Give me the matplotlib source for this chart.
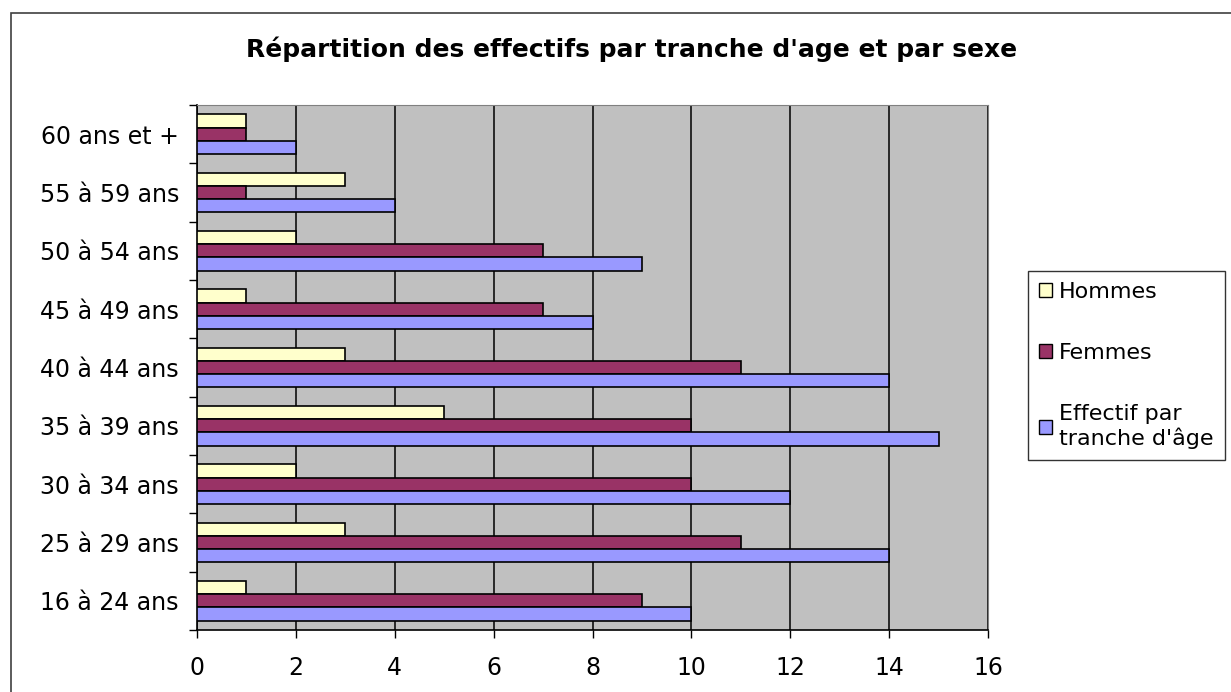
import numpy as np
import matplotlib.pyplot as plt
from matplotlib.patches import Rectangle, Patch

plt.rcParams['font.family'] = ['DejaVu Sans']

# Data (bottom to top as drawn)
categories = ['16 à 24 ans', '25 à 29 ans', '30 à 34 ans', '35 à 39 ans', '40 à 44 ans',
              '45 à 49 ans', '50 à 54 ans', '55 à 59 ans', '60 ans et +']
hommes = [1, 3, 2, 5, 3, 1, 2, 3, 1]
femmes = [9, 11, 10, 10, 11, 7, 7, 1, 1]
effectif = [10, 14, 12, 15, 14, 8, 9, 4, 2]

fig = plt.figure(figsize=(12.31, 6.92), dpi=100)
fig.patch.set_facecolor('white')

# outer chart frame
fig.patches.append(Rectangle((11 / 1231, -0.1), 1.2, (692 - 13) / 692 + 0.1,
                             transform=fig.transFigure, fill=False,
                             edgecolor='#404040', linewidth=1.2))

ax = fig.add_axes([197 / 1231, 62 / 692, 791 / 1231, 525 / 692])
ax.set_facecolor('#C0C0C0')

y = np.arange(len(categories))
h = 0.225
ax.barh(y + h, hommes, height=h, color='#FFFFCC', edgecolor='black', linewidth=1.2, zorder=3)
ax.barh(y, femmes, height=h, color='#993366', edgecolor='black', linewidth=1.2, zorder=3)
ax.barh(y - h, effectif, height=h, color='#9999FF', edgecolor='black', linewidth=1.2, zorder=3)

ax.set_xlim(0, 16)
ax.set_ylim(-0.5, len(categories) - 0.5)
ax.set_xticks(range(0, 17, 2))
ax.set_yticks(y)
ax.set_yticklabels(categories)
ax.set_yticks(np.arange(-0.5, len(categories), 1), minor=True)
ax.tick_params(axis='y', which='major', length=0, pad=13, labelsize=17)
ax.tick_params(axis='y', which='minor', length=6, width=1, color='black')
ax.tick_params(axis='x', length=6, width=1, pad=13, labelsize=17)
ax.xaxis.grid(True, color='black', linewidth=1.1, zorder=0)
ax.set_axisbelow(True)

for side in ['top', 'right']:
    ax.spines[side].set_color('#808080')
for side in ['left', 'bottom']:
    ax.spines[side].set_color('black')
    ax.spines[side].set_linewidth(1.2)

fig.text(632 / 1231, 1 - 49 / 692, "Répartition des effectifs par tranche d'age et par sexe",
         ha='center', va='center', fontsize=18, fontweight='bold')

handles = [Patch(facecolor='#FFFFCC', edgecolor='black'),
           Patch(facecolor='#993366', edgecolor='black'),
           Patch(facecolor='#9999FF', edgecolor='black')]
labels = ['Hommes', 'Femmes', "Effectif par\ntranche d'âge"]
leg = fig.legend(handles, labels, loc='upper left',
                 bbox_to_anchor=(1028 / 1231, 1 - 271 / 692),
                 fontsize=16, frameon=True, fancybox=False, edgecolor='black',
                 handlelength=0.6, handleheight=0.6, handletextpad=0.3,
                 labelspacing=1.85, borderpad=0.5, borderaxespad=0)
leg.get_frame().set_linewidth(1.0)

fig.savefig('out.png', dpi=100)
